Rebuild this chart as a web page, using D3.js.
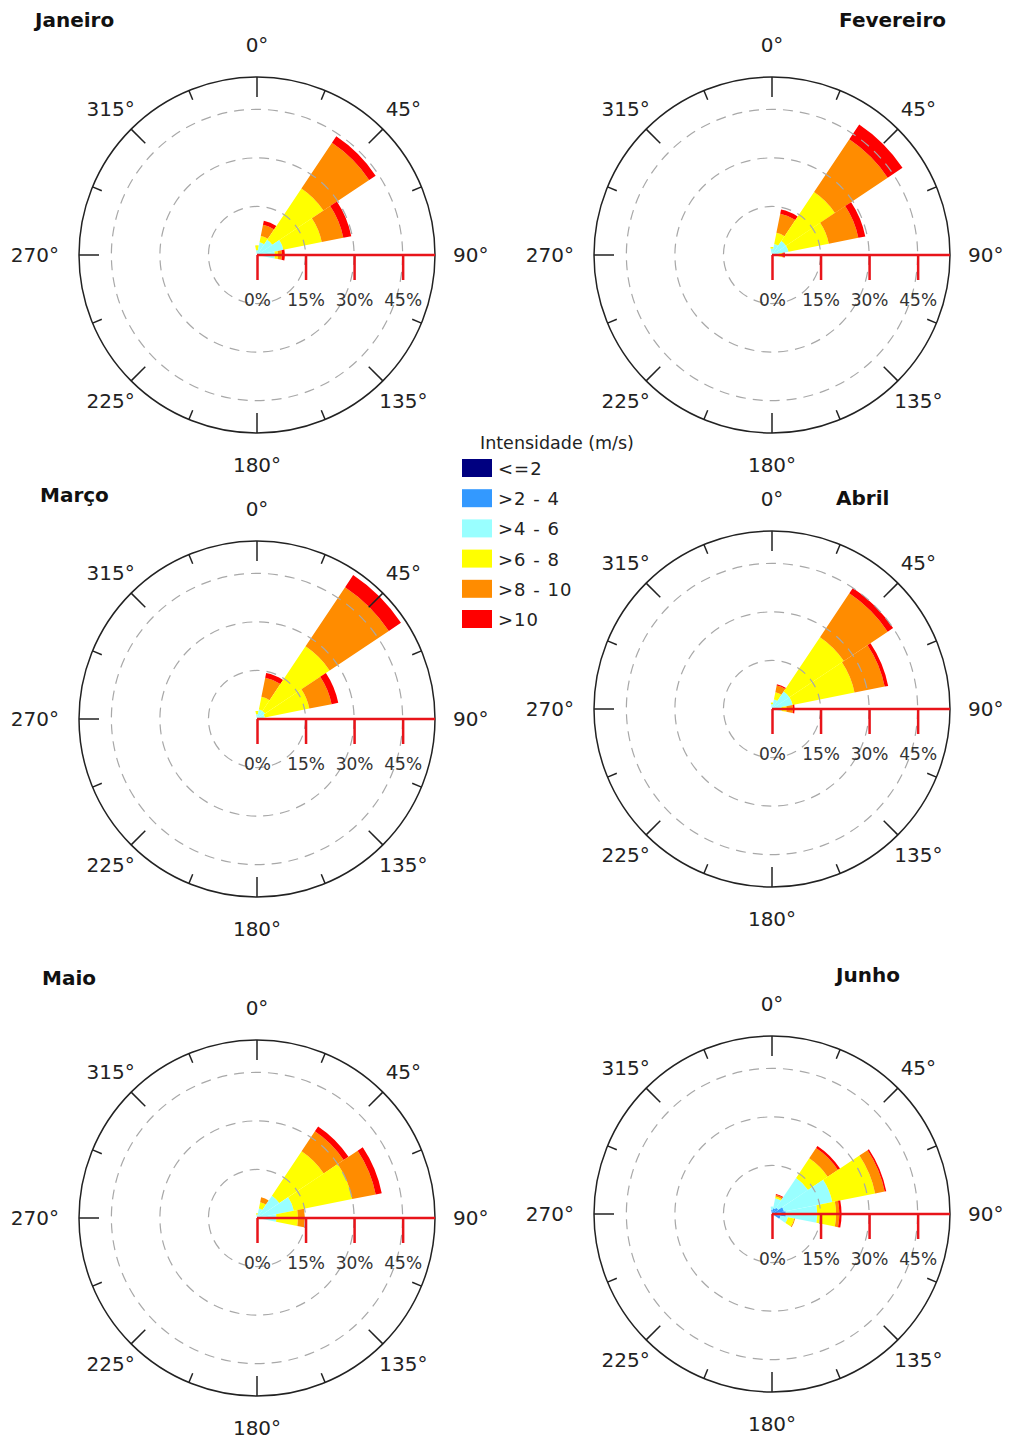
<!DOCTYPE html>
<html>
<head>
<meta charset="utf-8">
<script src="https://cdn.jsdelivr.net/npm/d3@7"></script>
<style>
  body { margin: 0; background: #fff; }
  svg { font-family: "DejaVu Sans", Verdana, sans-serif; }
</style>
</head>
<body>
<svg id="chart" width="1011" height="1441"></svg>
<script>
// speed classes (legend) and their colours
var classes = ["<=2", ">2 - 4", ">4 - 6", ">6 - 8", ">8 - 10", ">10"];
var classColors = ["#000080", "#3399ff", "#99ffff", "#ffff00", "#ff8c00", "#ff0000"];

var months = ["Janeiro", "Fevereiro", "Março", "Abril", "Maio", "Junho"];

var dirLabels = [0, 45, 90, 135, 180, 225, 270, 315];
var pctTicks = [0, 15, 30, 45];
var gridRings = [15, 30, 45];

// frequency (%) per direction sector: [direction, [<=2, >2-4, >4-6, >6-8, >8-10, >10]]
var janeiro = [
  [0,    [0, 0,   1.5, 1.5,  0,    0]],
  [22.5, [0, 0,   4,   2,    3.5,  1.3]],
  [45,   [0, 0.2, 5.5, 19,   17,   2.4]],
  [67.5, [0, 0.3, 8,   12.1, 6.8,  2.5]],
  [90,   [0, 0,   5.5, 1,    1.2,  0.9]]
];
var fevereiro = [
  [0,    [0, 0,   2,   0.5,  0,    0]],
  [22.5, [0, 0,   3.5, 3.5,  6,    1.3]],
  [45,   [0, 0.2, 5,   18.2, 19.6, 5.5]],
  [67.5, [0, 0.2, 5,   12.7, 9.3,  2.2]],
  [90,   [0, 0,   2,   1,    0.5,  0.5]]
];
var marco = [
  [0,    [0, 0,   1.5, 1,    0,    0]],
  [22.5, [0, 0,   3,   4,    6,    1.5]],
  [45,   [0, 0,   3,   24,   22,   4.5]],
  [67.5, [0, 0,   2.5, 14,   7,    2.1]],
  [90,   [0, 0,   1,   0.5,  0,    0]]
];
var abril = [
  [0,    [0, 0,   1.5, 0.5,  0,    0]],
  [22.5, [0, 0,   3,   2.3,  2.1,  0.4]],
  [45,   [0, 0,   6.5, 20.2, 16.3, 2]],
  [67.5, [0, 0,   6.5, 19.5, 9.5,  1.1]],
  [90,   [0, 0,   3,   1.5,  2,    0.5]]
];
var maio = [
  [0,    [0,   0,   1,    0.5,  0,   0]],
  [22.5, [0,   0,   3,    2,    1.5, 0]],
  [45,   [0,   0.3, 8,    16.5, 7.4, 1.8]],
  [67.5, [0,   0.3, 11.3, 18.4, 7.4, 1.9]],
  [90,   [0.1, 0.4, 5.5,  6.7,  2.1, 0]]
];
var junho = [
  [0,     [0.3, 1,   1,    0,    0,   0]],
  [22.5,  [0.3, 1.5, 3.2,  0.5,  0.5, 0.3]],
  [45,    [0.3, 2,   11.1, 7.3,  3.8, 0.8]],
  [67.5,  [0.3, 3.5, 15.2, 13.5, 3,   0.5]],
  [90,    [0.3, 4,   9.7,  5.8,  1,   0.7]],
  [112.5, [0.2, 2.5, 2.3,  2,    0.3, 0]]
];
var monthData = [janeiro, fevereiro, marco, abril, maio, junho];

// layout
var panels = [
  {cx: 257, cy: 255,  tx: 35,  ty: 27,  anchor: "start"},
  {cx: 772, cy: 255,  tx: 946, ty: 27,  anchor: "end"},
  {cx: 257, cy: 719,  tx: 40,  ty: 502, anchor: "start"},
  {cx: 772, cy: 709,  tx: 836, ty: 505, anchor: "start"},
  {cx: 257, cy: 1218, tx: 42,  ty: 985, anchor: "start"},
  {cx: 772, cy: 1214, tx: 836, ty: 982, anchor: "start"}
];

var svg = d3.select("#chart");
var R = 178;
var r = d3.scaleLinear().domain([0, 55]).range([0, R]);
var sectorHalf = 11.25 * Math.PI / 180;
var arc = d3.arc();

function labelPos(d) {
  var t = d * Math.PI / 180;
  if (d === 90) return {x: 196, y: 0, a: "start"};
  if (d === 270) return {x: -198, y: 0, a: "end"};
  var rr = d % 90 === 0 ? 210 : 207;
  return {x: Math.sin(t) * rr, y: -Math.cos(t) * rr, a: "middle"};
}

monthData.forEach(function(data, i) {
  var p = panels[i];
  svg.append("text")
    .attr("x", p.tx).attr("y", p.ty)
    .attr("text-anchor", p.anchor)
    .attr("font-size", 20).attr("font-weight", "bold").attr("fill", "#111")
    .text(months[i]);

  var g = svg.append("g").attr("transform", "translate(" + p.cx + "," + p.cy + ")");

  // stacked sectors
  data.forEach(function(row) {
    var a = row[0] * Math.PI / 180;
    var acc = 0;
    row[1].forEach(function(v, k) {
      if (v <= 0) return;
      g.append("path")
        .attr("d", arc({innerRadius: r(acc), outerRadius: r(acc + v),
                        startAngle: a - sectorHalf, endAngle: a + sectorHalf}))
        .attr("fill", classColors[k]);
      acc += v;
    });
  });

  // dashed rings
  g.selectAll(".ring").data(gridRings).enter().append("circle")
    .attr("r", function(d) { return r(d); })
    .attr("fill", "none").attr("stroke", "#a8a8a8")
    .attr("stroke-width", 1.2).attr("stroke-dasharray", "10,7");

  // outer circle
  g.append("circle").attr("r", R)
    .attr("fill", "none").attr("stroke", "#222").attr("stroke-width", 1.5);

  // direction ticks every 22.5
  d3.range(0, 360, 22.5).forEach(function(deg) {
    var len = deg % 45 === 0 ? 20 : 10;
    var t = deg * Math.PI / 180;
    g.append("line")
      .attr("x1", Math.sin(t) * R).attr("y1", -Math.cos(t) * R)
      .attr("x2", Math.sin(t) * (R - len)).attr("y2", -Math.cos(t) * (R - len))
      .attr("stroke", "#222").attr("stroke-width", 1.5);
  });

  // direction labels
  g.selectAll(".dir").data(dirLabels).enter().append("text")
    .attr("x", function(d) { return labelPos(d).x; })
    .attr("y", function(d) { return labelPos(d).y; })
    .attr("text-anchor", function(d) { return labelPos(d).a; })
    .attr("dominant-baseline", "central")
    .attr("font-size", 20).attr("fill", "#222")
    .text(function(d) { return d + "°"; });

  // radial percentage axis
  var ax = g.append("g")
    .call(d3.axisBottom(r).tickValues(pctTicks).tickSize(25).tickSizeOuter(0).tickPadding(14)
      .tickFormat(function(d) { return d + "%"; }));
  ax.select(".domain").attr("stroke", "#e8141a").attr("stroke-width", 2.5)
    .attr("d", "M0,0H" + R);
  ax.selectAll(".tick line").attr("stroke", "#e8141a").attr("stroke-width", 2.5);
  ax.selectAll(".tick text").attr("fill", "#333").attr("font-size", 17)
    .attr("font-family", "DejaVu Sans, Verdana, sans-serif");
});

// legend
var leg = svg.append("g").attr("transform", "translate(462,0)");
leg.append("text").attr("x", 18).attr("y", 449)
  .attr("font-size", 17.5).attr("fill", "#222").text("Intensidade (m/s)");
classes.forEach(function(c, k) {
  var y = 459 + k * 30.2;
  leg.append("rect").attr("x", 0).attr("y", y).attr("width", 30).attr("height", 18)
    .attr("fill", classColors[k]);
  leg.append("text").attr("x", 36).attr("y", y + 16)
    .attr("font-size", 18).attr("fill", "#222").attr("letter-spacing", 1)
    .text(c);
});
</script>
</body>
</html>
